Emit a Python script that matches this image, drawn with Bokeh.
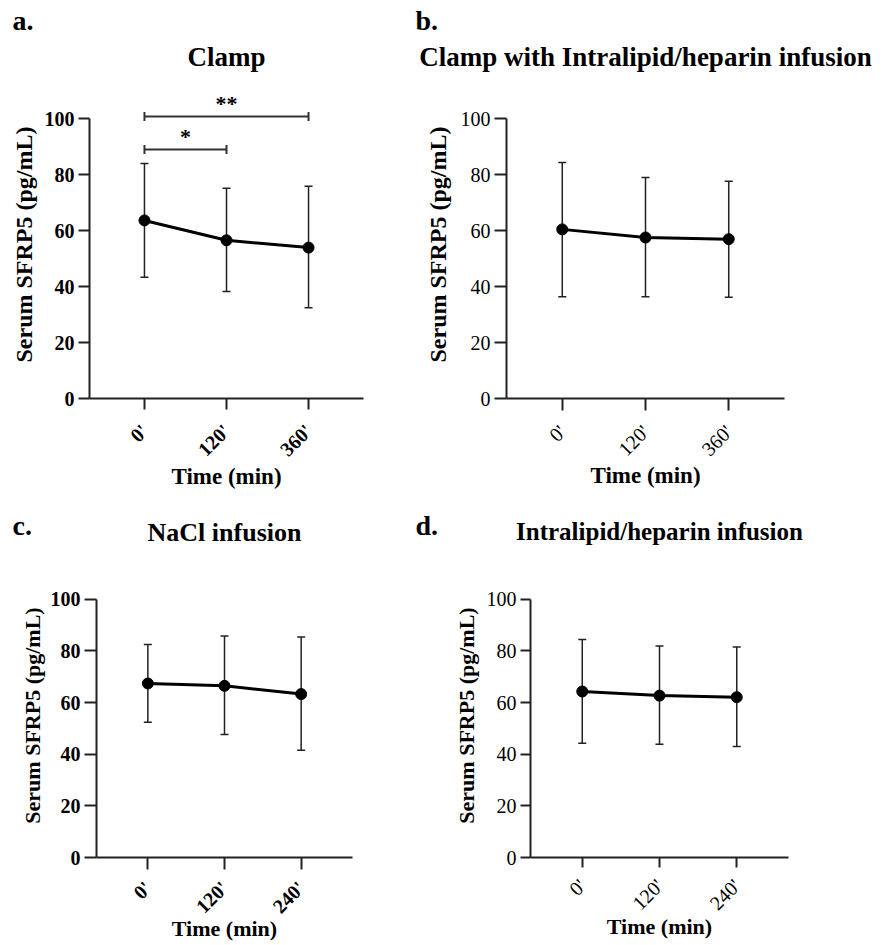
import math
from bokeh.plotting import figure
from bokeh.models import ColumnDataSource, Whisker, TeeHead, Range1d, FixedTicker, Label
from bokeh.layouts import column, row
from bokeh.embed import file_html
from bokeh.resources import INLINE
from bokeh.core.properties import value

FONT = "Liberation Serif"

# ---- data ----
y_ticks = [0, 20, 40, 60, 80, 100]

a_times = ["0'", "120'", "360'"]
a_mean = [63.6, 56.5, 53.9]
a_upper = [83.9, 75.1, 75.8]
a_lower = [43.3, 38.2, 32.4]
a_sig_from = [0, 0]
a_sig_to = [2, 1]
a_sig_y = [100.7, 88.9]
a_sig_text = ["**", "*"]

b_times = ["0'", "120'", "360'"]
b_mean = [60.4, 57.5, 56.9]
b_upper = [84.3, 78.9, 77.6]
b_lower = [36.3, 36.3, 36.2]

c_times = ["0'", "120'", "240'"]
c_mean = [67.4, 66.5, 63.3]
c_upper = [82.5, 85.8, 85.4]
c_lower = [52.4, 47.6, 41.5]

d_times = ["0'", "120'", "240'"]
d_mean = [64.3, 62.7, 62.1]
d_upper = [84.4, 81.9, 81.5]
d_lower = [44.3, 43.9, 43.0]

titles = ["Clamp", "Clamp with Intralipid/heparin infusion",
          "NaCl infusion", "Intralipid/heparin infusion"]
letters = ["a.", "b.", "c.", "d."]


def header(w, h, letter, letter_xy, title, title_xy, title_size):
    p = figure(width=w, height=h, x_range=Range1d(0, w), y_range=Range1d(0, h),
               x_axis_type=None, y_axis_type=None, min_border=0,
               toolbar_location=None, tools="", output_backend="svg", title=None)
    p.outline_line_color = None
    p.xgrid.visible = False
    p.ygrid.visible = False
    p.add_layout(Label(x=letter_xy[0], y=letter_xy[1], text=letter, text_font=FONT,
                       text_font_size="28px", text_font_style="bold", text_align="left",
                       text_baseline="alphabetic", text_color="black"))
    p.add_layout(Label(x=title_xy[0], y=title_xy[1], text=title, text_font=FONT,
                       text_font_size=title_size, text_font_style="bold", text_align="center",
                       text_baseline="alphabetic", text_color="black"))
    return p


def panel(times, mean, upper, lower, bold, w, h, mbl, mbr, mbt, mbb,
          ylabel_size, xlabel_size, ylab_standoff, xtick_standoff, xlab_standoff, tick_len):
    xs = list(range(len(times)))
    p = figure(width=w, height=h, min_border_left=mbl, min_border_right=mbr,
               min_border_top=mbt, min_border_bottom=mbb,
               x_range=Range1d(-0.67, len(times) - 1 + 0.67), y_range=Range1d(0, 110),
               toolbar_location=None, tools="", output_backend="svg", title=None)
    p.outline_line_color = None
    p.xgrid.visible = False
    p.ygrid.visible = False

    fs = "bold" if bold else "normal"
    for ax in (p.xaxis[0], p.yaxis[0]):
        ax.axis_line_width = 2
        ax.axis_line_color = "#222222"
        ax.major_tick_line_width = 2
        ax.major_tick_line_color = "#222222"
        ax.major_tick_out = tick_len
        ax.major_tick_in = 0
        ax.minor_tick_line_color = None
        ax.major_label_text_font = FONT
        ax.major_label_text_font_size = "20px"
        ax.major_label_text_font_style = fs
        ax.major_label_text_color = "black"
        ax.axis_label_text_font = FONT
        ax.axis_label_text_font_style = "bold"
        ax.axis_label_text_color = "black"

    p.yaxis.ticker = FixedTicker(ticks=y_ticks)
    p.yaxis.bounds = (y_ticks[0], y_ticks[-1])
    p.yaxis.axis_label = "Serum SFRP5 (pg/mL)"
    p.yaxis.axis_label_text_font_size = ylabel_size
    p.yaxis.axis_label_standoff = ylab_standoff
    p.yaxis.major_label_standoff = 4

    p.xaxis.ticker = FixedTicker(ticks=xs)
    p.xaxis.major_label_overrides = {x: t for x, t in zip(xs, times)}
    p.xaxis.major_label_orientation = math.pi / 4
    p.xaxis.major_label_standoff = xtick_standoff
    p.xaxis.axis_label = "Time (min)"
    p.xaxis.axis_label_text_font_size = xlabel_size
    p.xaxis.axis_label_standoff = xlab_standoff

    src = ColumnDataSource(dict(x=xs, mean=mean, upper=upper, lower=lower))
    wk = Whisker(base="x", upper="upper", lower="lower", source=src, dimension="height",
                 line_width=1.5, line_color="#222222",
                 upper_head=TeeHead(size=8, line_width=1.5, line_color="#222222"),
                 lower_head=TeeHead(size=8, line_width=1.5, line_color="#222222"))
    p.add_layout(wk)
    p.line("x", "mean", source=src, line_width=3, line_color="black")
    p.scatter("x", "mean", source=src, size=11, fill_color="black", line_color="black")
    return p


# headers (coordinates are pixels inside each header strip, y measured upward)
ha = header(410, 80, letters[0], (12, 60), titles[0], (226, 24), "27px")
hb = header(477, 80, letters[1], (5, 60), titles[1], (235, 24), "27px")
hc = header(410, 57, letters[2], (12, 30), titles[2], (224, 23), "26px")
hd = header(477, 57, letters[3], (5, 30), titles[3], (249, 24), "25px")

pa = panel(a_times, a_mean, a_upper, a_lower, True,
           418, 418, 89, 55, 10, 100, "24px", "23px", 5, 18, -7, 11)
# significance brackets on panel a
sx0 = a_sig_from
sx1 = a_sig_to
pa.segment(x0=sx0, x1=sx1, y0=a_sig_y, y1=a_sig_y, line_width=2, line_color="#333333")
pa.scatter(x=sx0 + sx1, y=a_sig_y + a_sig_y, marker="dash", angle=math.pi / 2, size=9,
           line_width=2, line_color="#333333")
pa.text(x=[(u + v) / 2 for u, v in zip(sx0, sx1)], y=a_sig_y, text=a_sig_text,
        text_font=value(FONT), text_font_size="22px", text_font_style="bold",
        text_align="center", text_baseline="alphabetic", y_offset=-13, text_color="black")

pb = panel(b_times, b_mean, b_upper, b_lower, False,
           465, 418, 88, 99, 10, 97, "24px", "23px", 7, 18, -8, 12)
pc = panel(c_times, c_mean, c_upper, c_lower, True,
           418, 389, 96, 66, 18, 84, "22px", "22px", 3, 15, -12, 12)
pd = panel(d_times, d_mean, d_upper, d_lower, False,
           465, 389, 112, 95, 18, 83, "22px", "22px", 5, 15, -11, 10)

layout = column(row(ha, hb), row(pa, pb), row(hc, hd), row(pc, pd))
open("out.html", "w").write(file_html(layout, INLINE))
